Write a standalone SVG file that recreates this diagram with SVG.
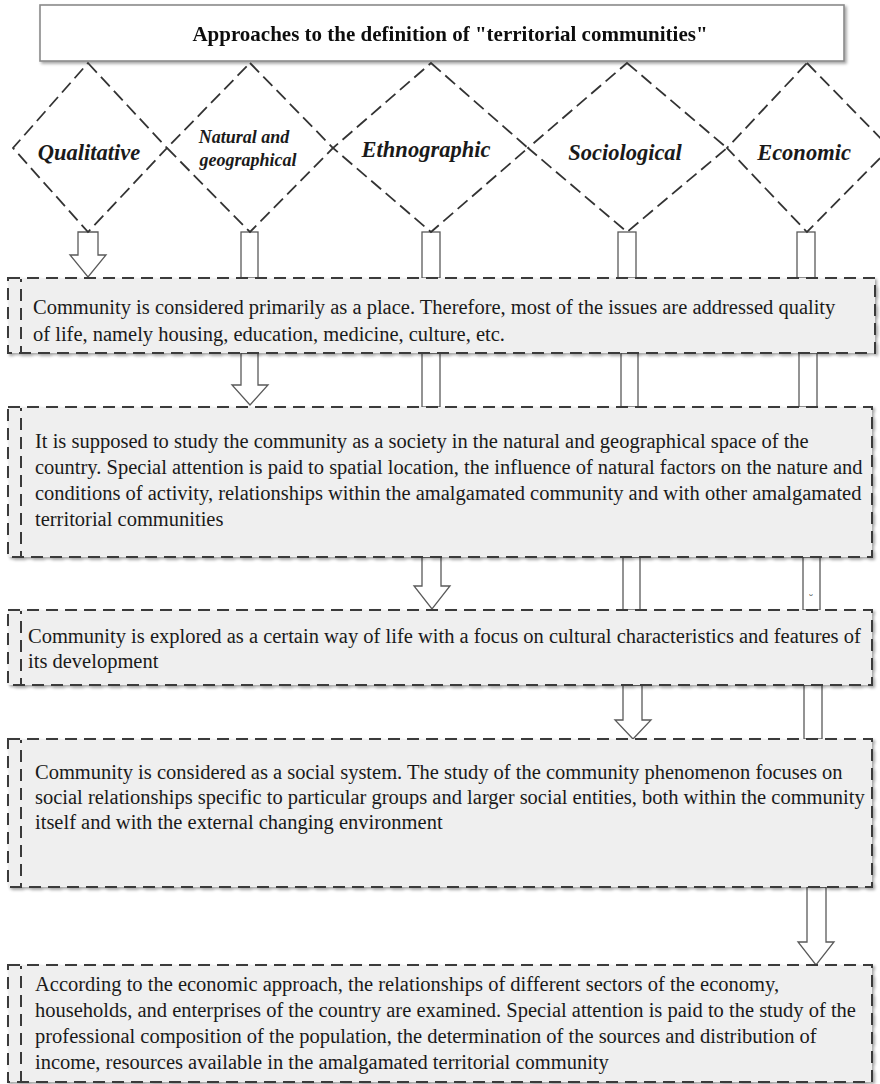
<svg xmlns="http://www.w3.org/2000/svg" width="880" height="1084" viewBox="0 0 880 1084">
<defs>
<filter id="sh" x="-5%" y="-20%" width="110%" height="140%">
<feDropShadow dx="2" dy="2" stdDeviation="1.5" flood-color="#000" flood-opacity="0.35"/>
</filter>
</defs>
<style>
.hdr{fill:#fff;stroke:#8a8a8a;stroke-width:1.6}
.htx{font-family:"Liberation Serif",serif;font-weight:bold;font-size:21px;fill:#111}
.dia{fill:none;stroke:#333;stroke-width:1.8;stroke-dasharray:13 6}
.dtx{font-family:"Liberation Serif",serif;font-weight:bold;font-style:italic;font-size:22.5px;fill:#1a1a1a}
.dts{font-family:"Liberation Serif",serif;font-weight:bold;font-style:italic;font-size:18px;fill:#1a1a1a}
.box{fill:#efefef;stroke:#3a3a3a;stroke-width:2;stroke-dasharray:12 7}
.inner{stroke:#3a3a3a;stroke-width:2;stroke-dasharray:12 7;stroke-dashoffset:9;fill:none}
.btx{font-family:"Liberation Serif",serif;font-size:20.5px;fill:#1a1a1a}
.arr{fill:#fff;stroke:#5a5a5a;stroke-width:1.3}
</style>

<g id="connectors">
<!-- Qualitative -->
<path class="arr" d="M78,232 H98 V255 H106 L88,277 L70,255 H78 Z"/>
<!-- Natural and geographical -->
<rect class="arr" x="241" y="232" width="17" height="46"/>
<path class="arr" d="M241,353 H258 V385 H268 L250,405 L232,385 H241 Z"/>
<!-- Ethnographic -->
<rect class="arr" x="422" y="232" width="18" height="46"/>
<rect class="arr" x="422" y="353" width="18" height="54"/>
<path class="arr" d="M422,557 H441 V586 H450 L432,609 L414,586 H422 Z"/>
<!-- Sociological -->
<rect class="arr" x="618" y="232" width="18" height="46"/>
<rect class="arr" x="621" y="353" width="17" height="54"/>
<rect class="arr" x="623" y="557" width="17" height="53"/>
<path class="arr" d="M623,685 H642 V720 H651 L633,739 L615,720 H623 Z"/>
<!-- Economic -->
<rect class="arr" x="797" y="232" width="18" height="46"/>
<rect class="arr" x="799" y="353" width="18" height="54"/>
<rect class="arr" x="803" y="557" width="17" height="53"/>
<rect class="arr" x="804" y="685" width="18" height="54"/>
<path class="arr" d="M807,887 H826 V942 H834 L816,965 L798,942 H807 Z"/>
<text x="809" y="600" font-family="DejaVu Sans,sans-serif" font-size="10" fill="#444">ᵕ</text>
</g>

<g id="header" filter="url(#sh)">
<rect class="hdr" x="40" y="5" width="804" height="56"/>
<text class="htx" x="450" y="41" text-anchor="middle">Approaches to the definition of "territorial communities"</text>
</g>

<g id="d-qualitative">
<path class="dia" d="M88,63 L167,148 L88,232 L13,148 Z"/>
<text class="dtx" x="89" y="160" text-anchor="middle">Qualitative</text>
</g>
<g id="d-natural">
<path class="dia" d="M250,63 L333,148 L250,232 L167,148 Z"/>
<text class="dts" x="244" y="143" text-anchor="middle">Natural and</text>
<text class="dts" x="248" y="166" text-anchor="middle">geographical</text>
</g>
<g id="d-ethnographic">
<path class="dia" d="M431,63 L528,148 L431,232 L333,148 Z"/>
<text class="dtx" x="426" y="157" text-anchor="middle">Ethnographic</text>
</g>
<g id="d-sociological">
<path class="dia" d="M627,63 L727,148 L627,232 L528,148 Z"/>
<text class="dtx" x="625" y="160" text-anchor="middle">Sociological</text>
</g>
<g id="d-economic">
<path class="dia" d="M807,63 L890,148 L807,232 L727,148 Z"/>
<text class="dtx" x="804" y="160" text-anchor="middle">Economic</text>
</g>

<g id="box1">
<rect class="box" x="8" y="278" width="867" height="75" filter="url(#sh)"/>
<line class="inner" x1="21" y1="279" x2="21" y2="352"/>
<text class="btx" x="33" y="314">Community is considered primarily as a place. Therefore, most of the issues are addressed quality</text>
<text class="btx" x="33" y="341">of life, namely housing, education, medicine, culture, etc.</text>
</g>

<g id="box2">
<rect class="box" x="8" y="407" width="864" height="150" filter="url(#sh)"/>
<line class="inner" x1="21" y1="408" x2="21" y2="556"/>
<text class="btx" x="35" y="448">It is supposed to study the community as a society in the natural and geographical space of the</text>
<text class="btx" x="35" y="474">country. Special attention is paid to spatial location, the influence of natural factors on the nature and</text>
<text class="btx" x="35" y="500">conditions of activity, relationships within the amalgamated community and with other amalgamated</text>
<text class="btx" x="35" y="526">territorial communities</text>
</g>

<g id="box3">
<rect class="box" x="8" y="610" width="864" height="75" filter="url(#sh)"/>
<line class="inner" x1="21" y1="611" x2="21" y2="684"/>
<text class="btx" x="28" y="643">Community is explored as a certain way of life with a focus on cultural characteristics and features of</text>
<text class="btx" x="28" y="668">its development</text>
</g>

<g id="box4">
<rect class="box" x="8" y="739" width="864" height="148" filter="url(#sh)"/>
<line class="inner" x1="21" y1="740" x2="21" y2="886"/>
<text class="btx" x="35" y="779">Community is considered as a social system. The study of the community phenomenon focuses on</text>
<text class="btx" x="35" y="804">social relationships specific to particular groups and larger social entities, both within the community</text>
<text class="btx" x="35" y="829">itself and with the external changing environment</text>
</g>

<g id="box5">
<rect class="box" x="8" y="965" width="864" height="117" filter="url(#sh)"/>
<line class="inner" x1="21" y1="966" x2="21" y2="1081"/>
<text class="btx" x="35" y="991">According to the economic approach, the relationships of different sectors of the economy,</text>
<text class="btx" x="35" y="1017">households, and enterprises of the country are examined. Special attention is paid to the study of the</text>
<text class="btx" x="35" y="1043">professional composition of the population, the determination of the sources and distribution of</text>
<text class="btx" x="35" y="1069">income, resources available in the amalgamated territorial community</text>
</g>
</svg>
